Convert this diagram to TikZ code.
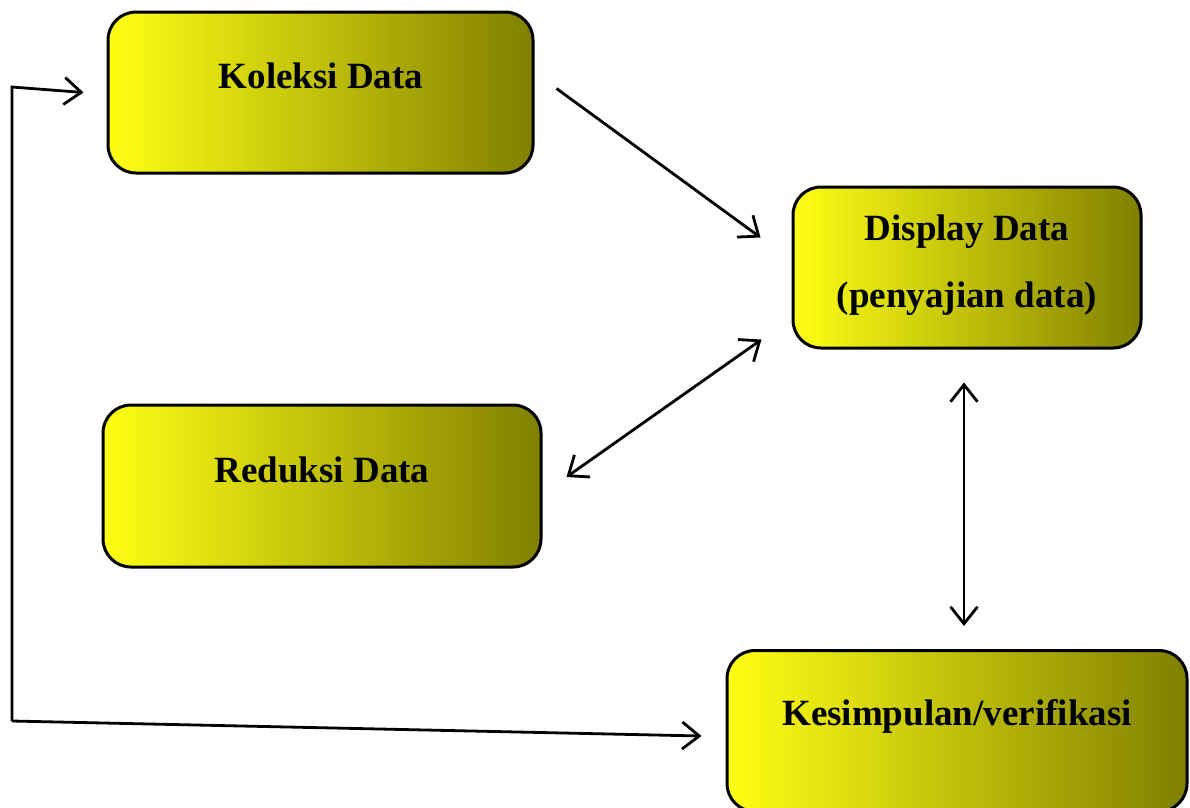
\documentclass[tikz,border=0pt]{standalone}
\usepackage{fontspec}
\setmainfont{Liberation Serif}
\usepackage{tikz}
\usetikzlibrary{arrows.meta}
\definecolor{boxyellow}{RGB}{255,255,20}
\definecolor{boxolive}{RGB}{128,128,0}
\tikzstyle{databox} = [rectangle, rounded corners=28pt, draw=black, line width=3pt, shading=axis, left color=boxyellow, right color=boxolive, inner sep=0pt]
\tikzstyle{boxtext} = [font=\bfseries\fontsize{37}{67}\selectfont, align=center, inner sep=0pt]
\tikzstyle{arrow} = [line width=2.8pt, -{Straight Barb[length=17pt,width=27pt]}]
\tikzstyle{dblarrow} = [line width=2.8pt, {Straight Barb[length=17pt,width=27pt]}-{Straight Barb[length=17pt,width=27pt]}]

\begin{document}
\begin{tikzpicture}[x=1pt, y=-1pt]

\useasboundingbox (0,0) rectangle (1190,807);

\node (K) [databox, minimum width=425pt, minimum height=161pt] at (320.5,92.5) {};
\node (Ktext) [boxtext] at (321,76) {Koleksi Data};

\node (D) [databox, minimum width=348pt, minimum height=161pt] at (967,267.5) {};
\node (Dtext) [boxtext] at (967,265) {Display Data\\(penyajian data)};

\node (R) [databox, minimum width=438pt, minimum height=162pt] at (322,486) {};
\node (Rtext) [boxtext] at (322,470) {Reduksi Data};

\node (V) [databox, minimum width=460pt, minimum height=161pt] at (957,731) {};
\node (Vtext) [boxtext] at (957,716) {Kesimpulan/verifikasi};

\coordinate (BL) at (12,721);
\coordinate (TL) at (12,87);

\draw [arrow] ([xshift=22pt, yshift=4pt]K.east) -- ([xshift=-31pt, yshift=30pt]D.west);
\draw [dblarrow] ([xshift=24pt, yshift=9pt]R.east) -- ([xshift=-30pt, yshift=10pt]D.south west);
\draw [dblarrow] ([xshift=-3pt, yshift=-33pt]D.south) -- ([xshift=7pt, yshift=23pt]V.north);
\draw [arrow] (BL) -- ([xshift=-24pt, yshift=-5pt]V.west);
\draw [arrow] (BL) -- (TL) -- ([xshift=-23pt]K.west);

\end{tikzpicture}
\end{document}
